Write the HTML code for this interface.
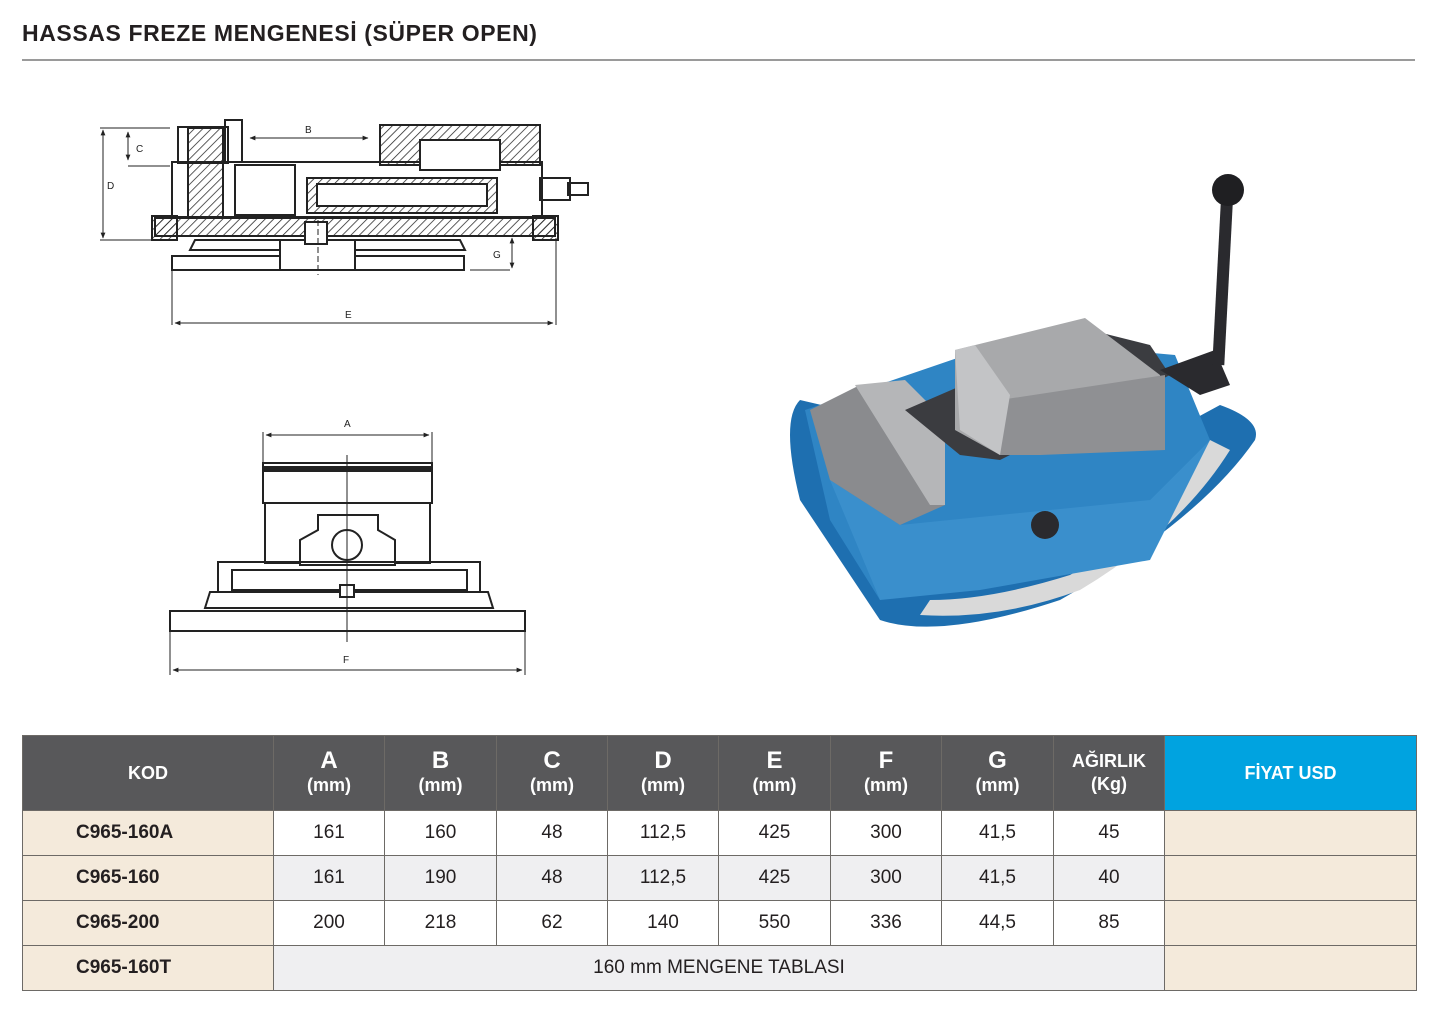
<!DOCTYPE html>
<html><head><meta charset="utf-8"><style>
body{margin:0;width:1434px;height:1009px;background:#fff;font-family:"Liberation Sans",sans-serif;position:relative;overflow:hidden}
.t{position:absolute;left:22px;top:20px;font-size:23px;font-weight:bold;color:#231f20;letter-spacing:0.6px}
.hr{position:absolute;left:22px;top:59px;width:1393px;height:2px;background:#9a9a9a}
table{position:absolute;left:22px;top:735px;border-collapse:collapse;table-layout:fixed;width:1394px}
td,th{border:1.5px solid #6d6a66;text-align:center;padding:0;color:#231f20;font-size:19px}
th{background:#58585a;color:#fff;font-weight:bold;height:74px;line-height:23px;font-size:18px}
th b{font-size:24px}
th.blue{background:#00a3e0}
td{height:44px}
td.k{background:#f4eadb;font-weight:bold;font-size:19px;text-align:left;padding-left:53px}
td.p{background:#f4eadb}
tr.g td{background:#efeff1}
tr.g td.k,tr.g td.p{background:#f4eadb}
</style></head><body>
<div class="t">HASSAS FREZE MENGENESİ (SÜPER OPEN)</div>
<div class="hr"></div>
<svg width="1434" height="720" style="position:absolute;left:0;top:0" xmlns="http://www.w3.org/2000/svg">
<defs><pattern id="h" width="6" height="6" patternUnits="userSpaceOnUse" patternTransform="rotate(45)"><line x1="0" y1="0" x2="0" y2="6" stroke="#222" stroke-width="1.5"/></pattern>
<marker id="a" viewBox="0 0 10 10" refX="9" refY="5" markerWidth="6" markerHeight="6" orient="auto-start-reverse"><path d="M0,1 L10,5 L0,9z" fill="#222"/></marker></defs>
<g stroke="#222" stroke-width="2" fill="none">
<rect x="178" y="127" width="50" height="36"/>
<rect x="225" y="120" width="17" height="42"/>
<rect x="172" y="162" width="370" height="55"/>
<rect x="188" y="128" width="35" height="90" fill="url(#h)"/>
<rect x="235" y="165" width="60" height="50"/>
<rect x="307" y="178" width="190" height="35" fill="url(#h)"/>
<rect x="317" y="184" width="170" height="22" fill="#fff"/>
<rect x="380" y="125" width="160" height="40" fill="url(#h)"/>
<rect x="420" y="140" width="80" height="30" fill="#fff"/>
<rect x="155" y="218" width="400" height="18" fill="url(#h)"/>
<rect x="152" y="216" width="25" height="24" fill="url(#h)"/>
<rect x="533" y="216" width="25" height="24" fill="url(#h)"/>
<rect x="540" y="178" width="30" height="22"/>
<rect x="568" y="183" width="20" height="12"/>
<path d="M195,240 L460,240 L465,250 L190,250z"/>
<rect x="172" y="256" width="292" height="14"/>
<rect x="280" y="240" width="75" height="30" fill="#fff"/>
<rect x="305" y="222" width="22" height="22" fill="#fff"/>
</g>
<g stroke="#222" stroke-width="1" fill="none">
<line x1="100" y1="128" x2="170" y2="128"/><line x1="100" y1="240" x2="170" y2="240"/>
<line x1="103" y1="130" x2="103" y2="238" marker-start="url(#a)" marker-end="url(#a)"/>
<line x1="128" y1="132" x2="128" y2="160" marker-start="url(#a)" marker-end="url(#a)"/>
<line x1="128" y1="166" x2="170" y2="166"/>
<line x1="250" y1="138" x2="368" y2="138" marker-start="url(#a)" marker-end="url(#a)"/>
<line x1="512" y1="238" x2="512" y2="268" marker-start="url(#a)" marker-end="url(#a)"/>
<line x1="470" y1="270" x2="510" y2="270"/>
<line x1="172" y1="270" x2="172" y2="325"/><line x1="556" y1="238" x2="556" y2="325"/>
<line x1="175" y1="323" x2="553" y2="323" marker-start="url(#a)" marker-end="url(#a)"/>
<line x1="318" y1="220" x2="318" y2="275" stroke-dasharray="6,3"/>
</g>
<g font-size="10" fill="#222"><text x="136" y="152">C</text><text x="107" y="189">D</text><text x="305" y="133">B</text><text x="493" y="258">G</text><text x="345" y="318">E</text>
<text x="344" y="427">A</text><text x="343" y="663">F</text></g>
<g stroke="#222" stroke-width="2" fill="none">
<rect x="263" y="463" width="169" height="40"/>
<rect x="263" y="467" width="169" height="4" fill="#222"/>
<rect x="265" y="503" width="165" height="60"/>
<path d="M300,540 L318,530 L318,515 L378,515 L378,530 L395,540 L395,565 L300,565z" fill="#fff"/>
<circle cx="347" cy="545" r="15"/>
<rect x="232" y="570" width="235" height="20"/>
<rect x="218" y="562" width="262" height="30"/>
<path d="M210,592 L488,592 L493,608 L205,608z"/>
<rect x="170" y="611" width="355" height="20"/>
<rect x="340" y="585" width="14" height="12" fill="#fff"/>
</g>
<g stroke="#222" stroke-width="1" fill="none">
<line x1="263" y1="432" x2="263" y2="463"/><line x1="432" y1="432" x2="432" y2="463"/>
<line x1="266" y1="435" x2="429" y2="435" marker-start="url(#a)" marker-end="url(#a)"/>
<line x1="347" y1="455" x2="347" y2="642"/>
<line x1="170" y1="631" x2="170" y2="675"/><line x1="525" y1="631" x2="525" y2="675"/>
<line x1="173" y1="670" x2="522" y2="670" marker-start="url(#a)" marker-end="url(#a)"/>
</g>
<g>
<path d="M800,400 Q780,420 800,500 L880,620 Q940,640 1060,600 Q1200,520 1255,440 Q1262,420 1220,405 L1100,470 Z" fill="#1e6fb0"/>
<path d="M920,615 Q1000,620 1080,590 Q1180,530 1230,450 L1210,440 Q1150,530 1070,575 Q990,600 930,600z" fill="#d9d9d9"/>
<path d="M805,410 L1010,340 L1175,355 L1210,440 L1150,500 L980,560 L880,600 L830,520 Z" fill="#2f85c4"/>
<path d="M830,480 L900,525 L1150,500 L1210,440 L1150,560 L980,590 L880,600 Z" fill="#3a8fcc"/>
<path d="M810,410 L860,385 L940,420 L945,505 L900,525 L830,480 Z" fill="#8a8b8e"/>
<path d="M855,385 L905,380 L945,420 L945,505 L930,505 Z" fill="#b5b6b8"/>
<path d="M905,410 L1090,330 L1150,345 L1170,375 L1000,460 L960,455 Z" fill="#3b3c40"/>
<path d="M955,350 L1085,318 L1160,375 L1165,450 L1040,450 L1000,455 L955,430 Z" fill="#a8a9ab"/>
<path d="M1000,400 L1165,375 L1165,450 L1040,455 L1000,455 Z" fill="#8f9093"/>
<path d="M955,350 L975,345 L1010,395 L1000,455 L960,430 Z" fill="#c3c4c6"/>
<path d="M1160,370 L1215,350 L1230,385 L1200,395 Z" fill="#2a2a2e"/>
<rect x="1217" y="185" width="12" height="180" fill="#2a2a2e" transform="rotate(3 1223 275)"/>
<circle cx="1228" cy="190" r="16" fill="#1f1f22"/>
<circle cx="1045" cy="525" r="14" fill="#2a2a2e"/>
</g>
</svg>
<table>
<colgroup><col style="width:251px"><col style="width:111px"><col style="width:112px"><col style="width:111px"><col style="width:111px"><col style="width:112px"><col style="width:111px"><col style="width:112px"><col style="width:111px"><col style="width:252px"></colgroup>
<tr><th>KOD</th><th><b>A</b><br>(mm)</th><th><b>B</b><br>(mm)</th><th><b>C</b><br>(mm)</th><th><b>D</b><br>(mm)</th><th><b>E</b><br>(mm)</th><th><b>F</b><br>(mm)</th><th><b>G</b><br>(mm)</th><th>AĞIRLIK<br>(Kg)</th><th class="blue">FİYAT USD</th></tr>
<tr><td class="k">C965-160A</td><td>161</td><td>160</td><td>48</td><td>112,5</td><td>425</td><td>300</td><td>41,5</td><td>45</td><td class="p"></td></tr>
<tr class="g"><td class="k">C965-160</td><td>161</td><td>190</td><td>48</td><td>112,5</td><td>425</td><td>300</td><td>41,5</td><td>40</td><td class="p"></td></tr>
<tr><td class="k">C965-200</td><td>200</td><td>218</td><td>62</td><td>140</td><td>550</td><td>336</td><td>44,5</td><td>85</td><td class="p"></td></tr>
<tr class="g"><td class="k">C965-160T</td><td colspan="8">160 mm MENGENE TABLASI</td><td class="p"></td></tr>
</table>
</body></html>
